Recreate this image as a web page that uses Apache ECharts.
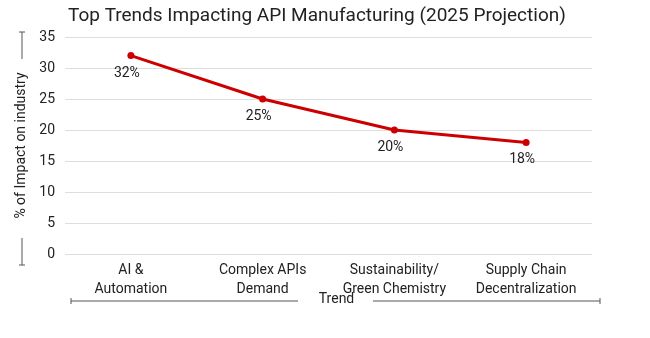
<!DOCTYPE html>
<html>
<head>
<meta charset="utf-8">
<title>API Manufacturing Trends</title>
<script src="https://cdn.jsdelivr.net/npm/echarts@6/dist/echarts.min.js"></script>
<style>
  html, body { margin: 0; padding: 0; background: #fff; }
  #chart { width: 650px; height: 338px; }
</style>
</head>
<body>
<div id="chart"></div>
<script>
var trends = ['AI &\nAutomation', 'Complex APIs\nDemand', 'Sustainability/\nGreen Chemistry', 'Supply Chain\nDecentralization'];
var impact = [32, 25, 20, 18];

var textColor = '#222';
var font = 'Roboto';
var lineGrey = '#555';

var option = {
    backgroundColor: '#fff',
    textStyle: { fontFamily: font },
    title: {
        text: 'Top Trends Impacting API Manufacturing (2025 Projection)',
        left: 63,
        top: 2,
        textStyle: { fontFamily: font, fontSize: 19, fontWeight: 'normal', color: textColor }
    },
    grid: { left: 65, right: 58, top: 37, bottom: 84 },
    xAxis: {
        type: 'category',
        data: trends,
        boundaryGap: true,
        axisLine: { show: false },
        axisTick: { show: false },
        axisLabel: { color: textColor, fontSize: 14, lineHeight: 19, margin: 7, interval: 0 },
        name: 'Trend',
        nameLocation: 'middle',
        nameGap: 38,
        nameMoveOverlap: false,
        nameTextStyle: { color: textColor, fontSize: 14, padding: [0, 0, 0, 16] }
    },
    yAxis: {
        type: 'value',
        min: 0,
        max: 35,
        interval: 5,
        axisLine: { show: false },
        axisTick: { show: false },
        axisLabel: { color: textColor, fontSize: 14, margin: 10 },
        splitLine: { lineStyle: { color: '#ddd', width: 1 } },
        name: '% of Impact on industry',
        nameLocation: 'middle',
        nameGap: 36,
        nameTextStyle: { color: textColor, fontSize: 14 }
    },
    series: [{
        type: 'line',
        data: impact,
        symbol: 'circle',
        symbolSize: 7,
        lineStyle: { color: '#cc0000', width: 3 },
        itemStyle: { color: '#cc0000' },
        label: {
            show: true,
            position: 'bottom',
            offset: [-4, 2],
            formatter: '{c}%',
            color: textColor,
            fontSize: 14
        }
    }],
    graphic: [
        // decorative brackets around the axis names
        { type: 'line', shape: { x1: 71, y1: 301, x2: 298, y2: 301 }, style: { stroke: lineGrey, lineWidth: 1 } },
        { type: 'line', shape: { x1: 71, y1: 298, x2: 71, y2: 304 }, style: { stroke: lineGrey, lineWidth: 1 } },
        { type: 'line', shape: { x1: 373, y1: 301, x2: 600, y2: 301 }, style: { stroke: lineGrey, lineWidth: 1 } },
        { type: 'line', shape: { x1: 600, y1: 298, x2: 600, y2: 304 }, style: { stroke: lineGrey, lineWidth: 1 } },
        { type: 'line', shape: { x1: 22, y1: 32, x2: 22, y2: 59 }, style: { stroke: lineGrey, lineWidth: 1 } },
        { type: 'line', shape: { x1: 19, y1: 32, x2: 25, y2: 32 }, style: { stroke: lineGrey, lineWidth: 1 } },
        { type: 'line', shape: { x1: 22, y1: 238, x2: 22, y2: 265 }, style: { stroke: lineGrey, lineWidth: 1 } },
        { type: 'line', shape: { x1: 19, y1: 265, x2: 25, y2: 265 }, style: { stroke: lineGrey, lineWidth: 1 } }
    ]
};

var chart = echarts.init(document.getElementById('chart'));
chart.setOption(option);
</script>
</body>
</html>
